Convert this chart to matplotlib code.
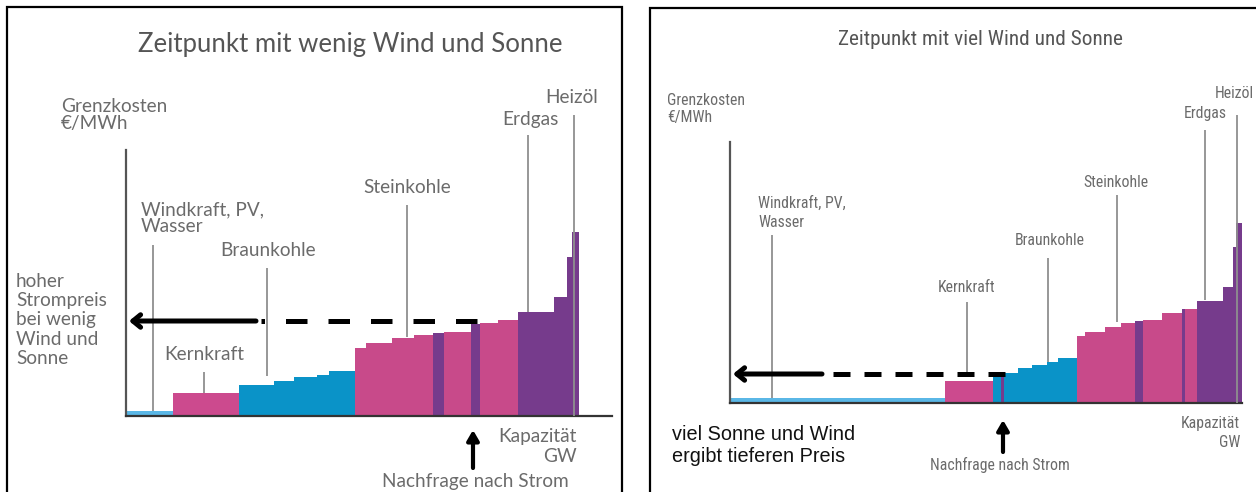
import numpy as np
import matplotlib
matplotlib.use("Agg")
import matplotlib.pyplot as plt
from matplotlib.patches import Rectangle

# Merit-Order: Kapazität (Breite) und Grenzkosten (Höhe) je Kraftwerksblock
# Zeitpunkt mit wenig Wind und Sonne
typ_wenig = ["EE", "Kern", "Braun", "Braun", "Braun", "Braun", "Braun",
             "Stein", "Stein", "Stein", "Stein", "Gas", "Stein", "Gas",
             "Stein", "Stein", "Gas", "Gas", "Oel", "Oel"]
kap_wenig = [47, 66, 35, 20, 23, 12, 26, 11, 26, 22, 19, 11, 27, 9, 18, 20, 36, 13, 5, 7]
kosten_wenig = [5, 23, 31, 35, 39, 41, 45, 68, 73, 78, 81, 83, 84, 92, 93, 96, 104, 119, 159, 184]

# Zeitpunkt mit viel Wind und Sonne
typ_viel = ["EE", "Kern", "Braun", "Gas", "Braun", "Braun", "Braun", "Braun", "Braun",
            "Stein", "Stein", "Stein", "Stein", "Gas", "Stein", "Stein", "Gas", "Stein",
            "Gas", "Gas", "Oel", "Oel"]
kap_viel = [215, 48, 8, 3, 14, 14, 15, 11, 19, 8, 20, 16, 14, 8, 19, 20, 3, 12, 26, 10, 3, 6]
kosten_viel = [5, 22, 26, 26, 30, 35, 38, 41, 45, 67, 71, 76, 80, 82, 83, 90, 94, 94, 102, 116, 156, 180]

# Nachfrage und resultierender Preis
nachfrage_wenig, preis_wenig = 349, 95
nachfrage_viel, preis_viel = 273, 29

farben = {"EE": "#5ab7e6", "Kern": "#cc4a8e", "Braun": "#0a93c8",
          "Stein": "#c84a8a", "Gas": "#763b8c", "Oel": "#763b8c"}

W, H = 1256, 492
fig = plt.figure(figsize=(W / 100, H / 100), dpi=100)
fig.patch.set_facecolor("white")

GRAU = "#6b6b6b"
LINIE = "#8f8f8f"


def ftext(x, y, s, **kw):
    fig.text(x / W, 1 - y / H, s, **kw)


def zeilen(x, y, pitch, lines, **kw):
    for i, s in enumerate(lines):
        ftext(x, y + i * pitch, s, va="baseline", **kw)


def panel(rect, kap, kosten, typ, nachfrage, preis, dash, leaders):
    x0, base, x1, top = rect
    ax = fig.add_axes([x0 / W, (H - base) / H, (x1 - x0) / W, (base - top) / H])
    links = np.concatenate([[0], np.cumsum(kap)[:-1]])
    ax.bar(links, kosten, width=kap, align="edge",
           color=[farben[t] for t in typ], linewidth=0, zorder=2)
    ax.set_xlim(0, x1 - x0)
    ax.set_ylim(0, base - top)
    for s in ["top", "right"]:
        ax.spines[s].set_visible(False)
    ax.spines["left"].set_color("#555555")
    ax.spines["left"].set_linewidth(1.6)
    ax.spines["bottom"].set_color("#333333")
    ax.spines["bottom"].set_linewidth(1.6)
    ax.set_xticks([])
    ax.set_yticks([])
    ax.patch.set_alpha(0)
    for lx, y_a, y_b in leaders:
        ax.vlines(lx, y_a, y_b, color=LINIE, lw=1.3, clip_on=False, zorder=3)
    # Preis-Pfeil: gestrichelt ab der Nachfrage, durchgezogen bis zur Achse
    solid_end, dl, gl = dash
    ax.plot([nachfrage + 2, solid_end + gl * 3.6 / 2.8], [preis, preis], color="black",
            lw=3.6, ls=(0, (dl, gl)), solid_capstyle="butt", dash_capstyle="butt",
            clip_on=False, zorder=4)
    ax.annotate("", xy=(3, preis), xytext=(solid_end, preis),
                arrowprops=dict(arrowstyle="->,head_length=0.55,head_width=0.45",
                                lw=3.6, color="black", shrinkA=0, shrinkB=0),
                annotation_clip=False, zorder=4)
    return ax


# linkes Panel
axl = panel((126, 416, 612, 150), kap_wenig, kosten_wenig, typ_wenig,
            nachfrage_wenig, preis_wenig, (130, 4.3, 4.2),
            [(27, 5, 171), (78, 23, 44), (141, 40, 148), (281, 79, 211),
             (402, 104, 281), (447.5, 0, 301)])
axl.annotate("", xy=(nachfrage_wenig - 2, -14), xytext=(nachfrage_wenig - 2, -52),
             arrowprops=dict(arrowstyle="-|>,head_length=0.6,head_width=0.35",
                             lw=3, color="black", shrinkA=0, shrinkB=0),
             annotation_clip=False)

# rechtes Panel
axr = panel((730, 403, 1242, 142), kap_viel, kosten_viel, typ_viel,
            nachfrage_viel, preis_viel, (92, 3.4, 2.8),
            [(42, 5, 168), (237, 31, 101), (318, 41, 145), (387, 81, 208),
             (475, 103, 273), (507, 0, 288)])
axr.annotate("", xy=(nachfrage_viel, -17), xytext=(nachfrage_viel, -49),
             arrowprops=dict(arrowstyle="-|>,head_length=0.6,head_width=0.35",
                             lw=3, color="black", shrinkA=0, shrinkB=0),
             annotation_clip=False)

# Rahmen
fig.add_artist(Rectangle((7 / W, -0.05), (622 - 7) / W, 1.05 - 7 / H,
                         transform=fig.transFigure, fill=False, ec="black", lw=1.6))
fig.add_artist(Rectangle((650 / W, -0.05), 0.5, 1.05 - 8 / H,
                         transform=fig.transFigure, fill=False, ec="black", lw=1.6))

# Texte links
fl = dict(family=["Lato", "DejaVu Sans"], color=GRAU)
ftext(350, 52, "Zeitpunkt mit wenig Wind und Sonne", ha="center", va="baseline",
      fontsize=18.5, **dict(fl, color="#555555"))
zeilen(61, 112, 17, ["Grenzkosten", "€/MWh"], fontsize=13.7, **fl)
zeilen(141, 215, 17, ["Windkraft, PV,", "Wasser"], fontsize=13.7, **fl)
ftext(268, 256, "Braunkohle", ha="center", va="baseline", fontsize=13.7, **fl)
ftext(204, 360, "Kernkraft", ha="center", va="baseline", fontsize=13.7, **fl)
ftext(407, 193, "Steinkohle", ha="center", va="baseline", fontsize=13.7, **fl)
ftext(530, 125, "Erdgas", ha="center", va="baseline", fontsize=13.7, **fl)
ftext(572, 103, "Heizöl", ha="center", va="baseline", fontsize=13.7, **fl)
zeilen(16, 287, 19.25, ["hoher", "Strompreis", "bei wenig", "Wind und", "Sonne"],
       fontsize=13.7, **fl)
zeilen(577, 442, 20, ["Kapazität", "GW"], ha="right", fontsize=13.7, **fl)
ftext(475, 487, "Nachfrage nach Strom", ha="center", va="baseline", fontsize=13.7, **fl)

# Texte rechts
fr = dict(family=["Roboto Condensed", "Roboto", "DejaVu Sans"], color=GRAU,
          fontstretch="condensed")
ftext(980, 45, "Zeitpunkt mit viel Wind und Sonne", ha="center", va="baseline",
      fontsize=15.3, **dict(fr, color="#555555"))
zeilen(667, 105, 17, ["Grenzkosten", "€/MWh"], fontsize=11.3, **fr)
zeilen(758, 208, 19, ["Windkraft, PV,", "Wasser"], fontsize=11.3, **fr)
ftext(967, 292, "Kernkraft", ha="center", va="baseline", fontsize=11.3, **fr)
ftext(1050, 245, "Braunkohle", ha="center", va="baseline", fontsize=11.3, **fr)
ftext(1116, 187, "Steinkohle", ha="center", va="baseline", fontsize=11.3, **fr)
ftext(1205, 118, "Erdgas", ha="center", va="baseline", fontsize=11.3, **fr)
ftext(1234, 98, "Heizöl", ha="center", va="baseline", fontsize=11.3, **fr)
zeilen(1240, 428, 19, ["Kapazität", "GW"], ha="right", fontsize=11.3, **fr)
ftext(1000, 470, "Nachfrage nach Strom", ha="center", va="baseline", fontsize=11.3, **fr)
zeilen(672, 440, 22, ["viel Sonne und Wind", "ergibt tieferen Preis"],
       fontsize=14.3, family=["Liberation Sans", "DejaVu Sans"], color="#111111")

fig.savefig("out.png", dpi=100)
